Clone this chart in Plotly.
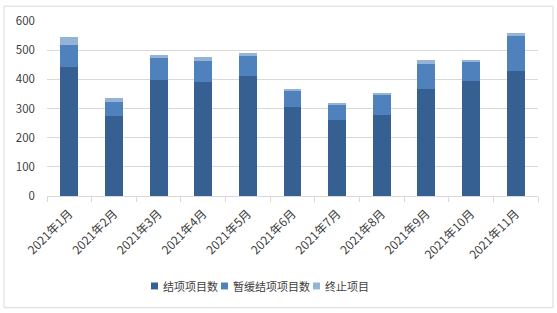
import plotly.graph_objects as go

categories = ["2021年1月", "2021年2月", "2021年3月", "2021年4月", "2021年5月", "2021年6月",
              "2021年7月", "2021年8月", "2021年9月", "2021年10月", "2021年11月"]
completed = [444, 274, 397, 390, 410, 305, 261, 278, 366, 393, 427]
postponed = [73, 49, 75, 72, 73, 55, 51, 68, 85, 65, 123]
terminated = [27, 13, 11, 13, 6, 6, 7, 7, 14, 10, 10]

series_names = ["结项项目数", "暂缓结项项目数", "终止项目"]
colors = ["#376092", "#4F81BD", "#95B3D7"]
y_ticks = [0, 100, 200, 300, 400, 500, 600]

font_family = "Noto Sans CJK SC, Microsoft YaHei, sans-serif"

W, H = 557, 313
ML, MR, MT, MB = 47, 19, 19, 117
PW, PH = W - ML - MR, H - MT - MB


def px_x(px):
    return (px - ML) / PW


def px_y(py):
    return (H - MB - py) / PH


fig = go.Figure()
for name, vals, col in zip(series_names, [completed, postponed, terminated], colors):
    fig.add_trace(go.Bar(x=categories, y=vals, name=name, marker_color=col,
                         marker_line_width=0, width=0.4))

shapes = [dict(type="rect", xref="paper", yref="paper",
               x0=px_x(4), x1=px_x(553), y0=px_y(309), y1=px_y(4),
               line=dict(color="#d9d9d9", width=1), fillcolor="rgba(0,0,0,0)")]
annotations = []

# custom compact legend
lx = 151
ly = 287
for name, col in zip(series_names, colors):
    shapes.append(dict(type="rect", xref="paper", yref="paper",
                       x0=px_x(lx), x1=px_x(lx + 7), y0=px_y(ly + 3.5), y1=px_y(ly - 3.5),
                       line=dict(width=0), fillcolor=col))
    annotations.append(dict(xref="paper", yref="paper", x=px_x(lx + 10), y=px_y(ly),
                            xanchor="left", yanchor="middle", showarrow=False, text=name,
                            font=dict(size=11, color="#404040", family=font_family)))
    lx += 10 + 11 * len(name) + 5

fig.update_layout(
    barmode="stack",
    width=W, height=H,
    margin=dict(l=ML, r=MR, t=MT, b=MB),
    paper_bgcolor="white", plot_bgcolor="white",
    font=dict(family=font_family, size=12, color="#404040"),
    showlegend=False,
    xaxis=dict(type="category", range=[-0.5, 10.5], tickangle=-45,
               showline=True, linecolor="#d9d9d9", linewidth=1,
               ticks="outside", tickson="boundaries", ticklen=5, tickcolor="#d9d9d9",
               ticklabelstandoff=5,
               tickfont=dict(size=12, color="#404040"), showgrid=False),
    yaxis=dict(range=[0, 600], tickvals=y_ticks, showgrid=True, gridcolor="#d9d9d9",
               gridwidth=1, zeroline=False, showline=False, ticklabelstandoff=11,
               tickfont=dict(size=11.5, color="#404040"), ticks="", ticklen=0),
    shapes=shapes,
    annotations=annotations,
)

fig.write_html("out.html")
